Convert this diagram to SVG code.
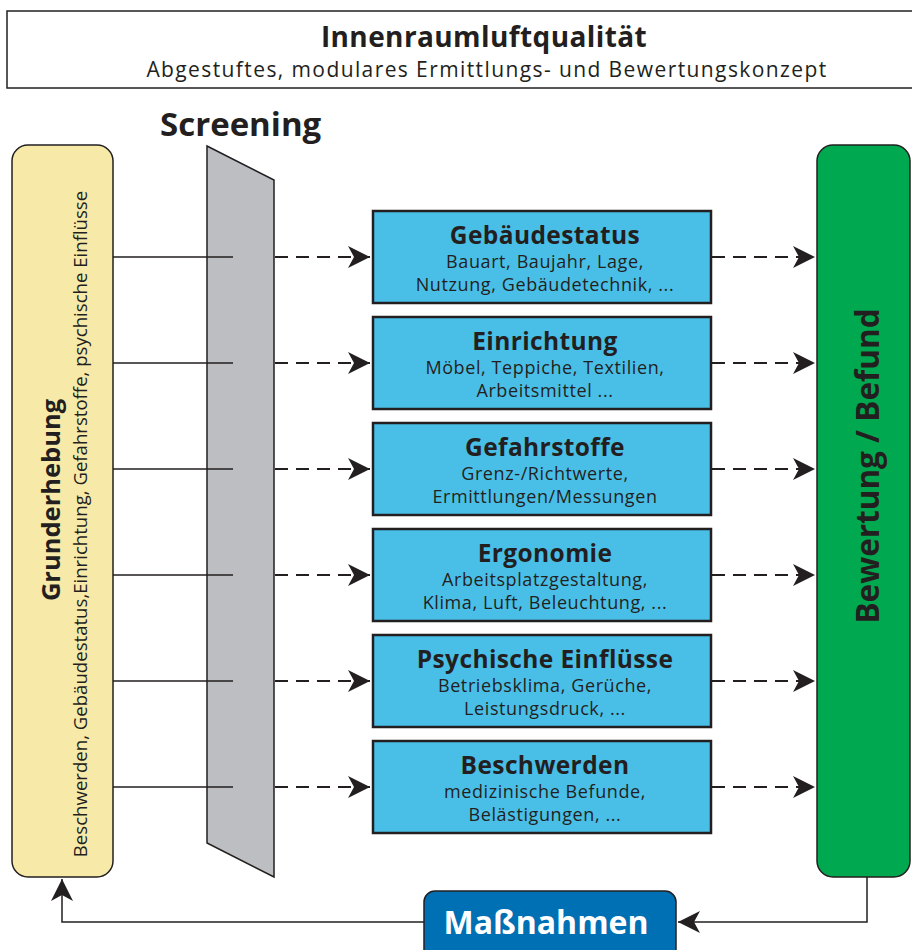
<svg xmlns="http://www.w3.org/2000/svg" width="912" height="950" viewBox="0 0 912 950">
<style>
text{font-family:"Open Sans","Noto Sans","Liberation Sans",sans-serif;fill:#231f20}
.b{font-weight:bold}
.box{fill:#49bfe8;stroke:#231f20;stroke-width:2.5}
.t{font-size:24.5px;font-weight:bold;text-anchor:middle;letter-spacing:0.4px}
.s{font-size:18px;text-anchor:middle;letter-spacing:0.6px}
.solid{stroke:#231f20;stroke-width:1.5;fill:none}
.dash{stroke:#231f20;stroke-width:1.8;fill:none;stroke-dasharray:13 8}
</style>
<defs>
<marker id="ah" markerWidth="24" markerHeight="22" refX="22" refY="11" orient="auto" markerUnits="userSpaceOnUse">
<path d="M0,0 L22,11 L0,22 L6,11 Z" fill="#231f20"/>
</marker>
</defs>
<g id="title">
<rect x="7" y="11" width="920" height="77" fill="#fff" stroke="#231f20" stroke-width="1.5"/>
<text x="484" y="47" class="b" font-size="28" text-anchor="middle" letter-spacing="0.4">Innenraumluftqualität</text>
<text x="487" y="77" font-size="21" text-anchor="middle" letter-spacing="1.4">Abgestuftes, modulares Ermittlungs- und Bewertungskonzept</text>
</g>
<g id="screening">
<polygon points="207,146 274,180 274,877 207,843" fill="#bcbec2" stroke="#231f20" stroke-width="1.5"/>
<text x="160" y="136" class="b" font-size="33">Screening</text>
</g>
<g id="grunderhebung">
<rect x="12" y="145" width="101" height="732" rx="16" fill="#f7eaa9" stroke="#231f20" stroke-width="1.5"/>
<text transform="translate(60,500) rotate(-90)" class="b" font-size="25.5" text-anchor="middle">Grunderhebung</text>
<text transform="translate(87,524) rotate(-90)" font-size="18.6" text-anchor="middle">Beschwerden, Gebäudestatus,Einrichtung, Gefahrstoffe, psychische Einflüsse</text>
</g>
<g id="bewertung">
<rect x="817" y="145" width="93" height="732" rx="16" fill="#00a94f" stroke="#231f20" stroke-width="1.5"/>
<text transform="translate(879,466) rotate(-90)" class="b" font-size="31.5" text-anchor="middle">Bewertung / Befund</text>
</g>
<g id="gebaeudestatus">
<rect class="box" x="373" y="211" width="338" height="92"/>
<text class="t" x="545" y="244">Gebäudestatus</text>
<text class="s" x="545" y="268">Bauart, Baujahr, Lage,</text>
<text class="s" x="545" y="291">Nutzung, Gebäudetechnik, ...</text>
</g>
<g id="einrichtung">
<rect class="box" x="373" y="317" width="338" height="92"/>
<text class="t" x="545" y="350">Einrichtung</text>
<text class="s" x="545" y="374">Möbel, Teppiche, Textilien,</text>
<text class="s" x="545" y="397">Arbeitsmittel ...</text>
</g>
<g id="gefahrstoffe">
<rect class="box" x="373" y="423" width="338" height="92"/>
<text class="t" x="545" y="456">Gefahrstoffe</text>
<text class="s" x="545" y="480">Grenz-/Richtwerte,</text>
<text class="s" x="545" y="503">Ermittlungen/Messungen</text>
</g>
<g id="ergonomie">
<rect class="box" x="373" y="529" width="338" height="92"/>
<text class="t" x="545" y="562">Ergonomie</text>
<text class="s" x="545" y="586">Arbeitsplatzgestaltung,</text>
<text class="s" x="545" y="609">Klima, Luft, Beleuchtung, ...</text>
</g>
<g id="psychische">
<rect class="box" x="373" y="635" width="338" height="92"/>
<text class="t" x="545" y="668">Psychische Einflüsse</text>
<text class="s" x="545" y="692">Betriebsklima, Gerüche,</text>
<text class="s" x="545" y="715">Leistungsdruck, ...</text>
</g>
<g id="beschwerden">
<rect class="box" x="373" y="741" width="338" height="92"/>
<text class="t" x="545" y="774">Beschwerden</text>
<text class="s" x="545" y="798">medizinische Befunde,</text>
<text class="s" x="545" y="821">Belästigungen, ...</text>
</g>
<g id="massnahmen">
<rect x="424" y="891" width="252" height="75" rx="11" fill="#0070b5" stroke="#231f20" stroke-width="1.5"/>
<text x="546" y="934" class="b" font-size="32" text-anchor="middle" style="fill:#fff">Maßnahmen</text>
</g>
<g id="connectors">
<path class="solid" d="M113,257 H233 M113,363 H233 M113,469 H233 M113,575 H233 M113,681 H233 M113,787 H233"/>
<path class="dash" d="M275,257 H370" marker-end="url(#ah)"/>
<path class="dash" d="M275,363 H370" marker-end="url(#ah)"/>
<path class="dash" d="M275,469 H370" marker-end="url(#ah)"/>
<path class="dash" d="M275,575 H370" marker-end="url(#ah)"/>
<path class="dash" d="M275,681 H370" marker-end="url(#ah)"/>
<path class="dash" d="M275,787 H370" marker-end="url(#ah)"/>
<path class="dash" d="M712,257 H815" marker-end="url(#ah)"/>
<path class="dash" d="M712,363 H815" marker-end="url(#ah)"/>
<path class="dash" d="M712,469 H815" marker-end="url(#ah)"/>
<path class="dash" d="M712,575 H815" marker-end="url(#ah)"/>
<path class="dash" d="M712,681 H815" marker-end="url(#ah)"/>
<path class="dash" d="M712,787 H815" marker-end="url(#ah)"/>
<path class="solid" d="M867,877 V922 H678" marker-end="url(#ah)"/>
<path class="solid" d="M424,922 H62 V879" marker-end="url(#ah)"/>
</g>
</svg>
